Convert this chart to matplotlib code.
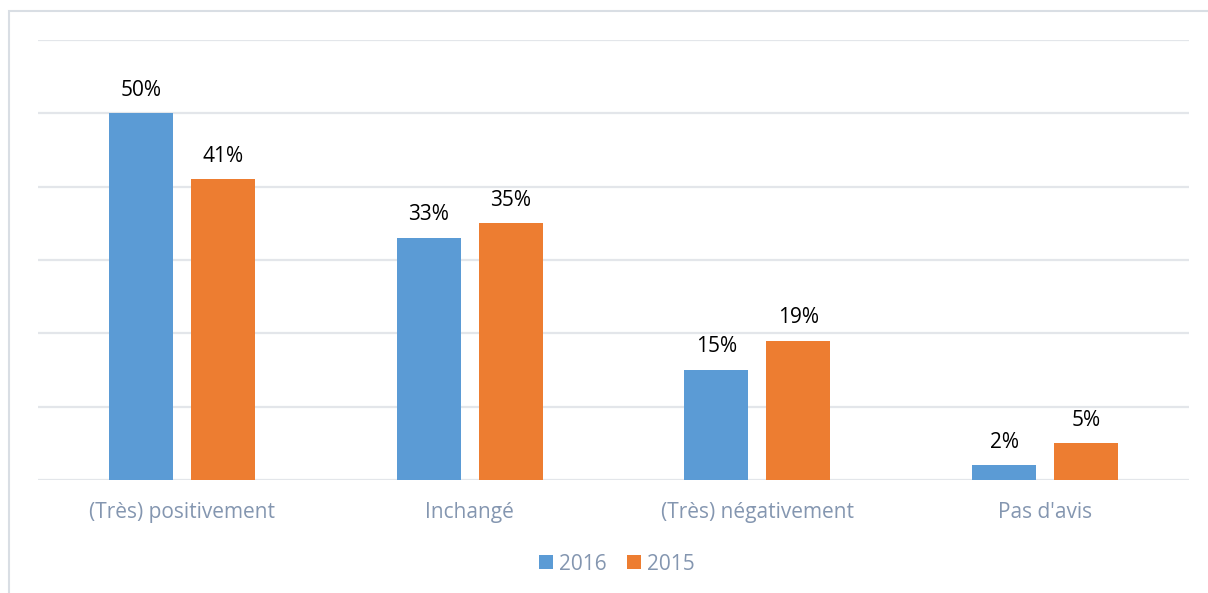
import matplotlib
matplotlib.use("Agg")
import matplotlib.pyplot as plt
import numpy as np
from matplotlib.patches import Rectangle

categories = ["(Très) positivement", "Inchangé", "(Très) négativement", "Pas d'avis"]
series_names = ["2016", "2015"]
values_2016 = [50, 33, 15, 2]
values_2015 = [41, 35, 19, 5]
value_labels_2016 = ["50%", "33%", "15%", "2%"]
value_labels_2015 = ["41%", "35%", "19%", "5%"]

blue = "#5B9BD5"
orange = "#ED7D31"
grid_c = "#E3E6EA"
text_grey = "#8496B0"

plt.rcParams['font.family'] = ['Open Sans', 'DejaVu Sans']

fig = plt.figure(figsize=(12.08, 5.93), dpi=100)
ax = fig.add_axes([38/1208, (593-480)/593, (1189-38)/1208, (480-40)/593])

x = np.arange(len(categories))
w = 0.222
off = 0.1425
b1 = ax.bar(x - off, values_2016, w, color=blue, label=series_names[0], zorder=3)
b2 = ax.bar(x + off, values_2015, w, color=orange, label=series_names[1], zorder=3)

for bars, labs in ((b1, value_labels_2016), (b2, value_labels_2015)):
    for r, t in zip(bars, labs):
        ax.annotate(t, (r.get_x() + r.get_width()/2, r.get_height()),
                    xytext=(0, 9), textcoords="offset points",
                    ha="center", va="bottom", fontsize=15, color="#000000")

ax.set_xlim(-0.5, len(categories) - 0.5)
ax.set_ylim(0, 60)
ax.set_yticks(np.arange(0, 61, 10))
ax.yaxis.grid(True, color=grid_c, linewidth=1.6, zorder=0)
ax.tick_params(axis='y', left=False, labelleft=False)
ax.tick_params(axis='x', bottom=False, pad=12)
ax.set_xticks(x)
ax.set_xticklabels(categories, fontsize=15, color=text_grey)
for s in ax.spines.values():
    s.set_visible(False)

leg = fig.legend(handles=[b1, b2], labels=series_names, loc="center",
                 bbox_to_anchor=(617/1208, 1 - 564/593), ncol=2, frameon=False,
                 fontsize=15, handlelength=0.65, handleheight=0.65,
                 handletextpad=0.3, columnspacing=1.0)
for t in leg.get_texts():
    t.set_color(text_grey)

fig.patches.append(Rectangle((9/1208, -0.05), 1.2, 1 - 11/593 + 0.05,
                             transform=fig.transFigure, fill=False,
                             edgecolor="#D9DEE4", linewidth=1.5))

fig.savefig("out.png", dpi=100)
